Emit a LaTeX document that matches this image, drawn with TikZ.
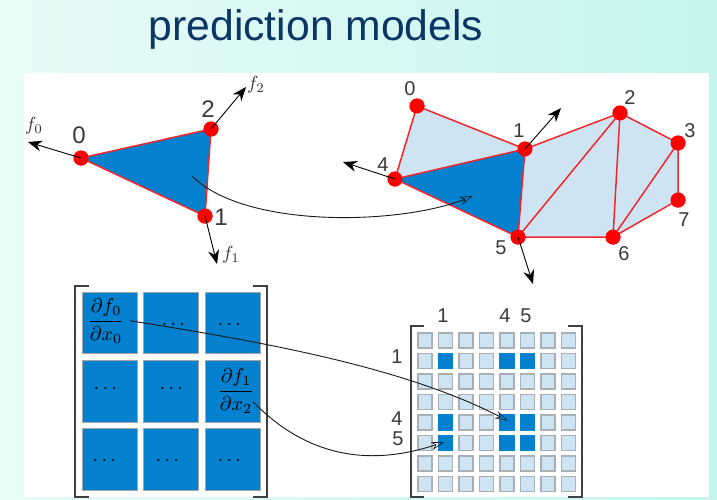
\documentclass[tikz,border=0pt]{standalone}
\usepackage{fontspec}
\usepackage{amsmath}
\usepackage{graphicx}
\setmainfont{Liberation Sans}
\usetikzlibrary{arrows.meta}
\definecolor{meshblue}{HTML}{0380CE}
\definecolor{lightblue}{HTML}{CFE4F3}
\definecolor{redline}{HTML}{F0282D}
\definecolor{cellgrey}{HTML}{A9B0B4}
\definecolor{digit}{HTML}{3A3A3A}
\definecolor{titleblue}{HTML}{0B3565}
\tikzset{
  vertex/.style={circle,fill=red,draw=none,minimum size=15pt,inner sep=0pt},
  lab/.style={text=digit,inner sep=0pt,font=\fontsize{24}{24}\selectfont},
  labr/.style={text=digit,inner sep=0pt,font=\fontsize{20}{20}\selectfont},
  fl/.style={inner sep=0pt,text=black!80},
  edge/.style={draw=redline,line width=1.5pt},
  push/.style={black,line width=.9pt,-{Stealth[length=14pt,width=11pt]}},
  link/.style={black!90,line width=.9pt,-{Stealth[open,length=13pt,width=8pt,line width=.6pt]}},
  brk/.style={draw=black!75,line width=1.1pt},
  bigcell/.style={fill=meshblue,draw=black!35,line width=.8pt,minimum width=55pt,minimum height=61.5pt,inner sep=0pt},
  lcell/.style={fill=lightblue,draw=cellgrey,line width=1.1pt,minimum width=14pt,minimum height=15pt,inner sep=0pt},
  dcell/.style={lcell,fill=meshblue,draw=meshblue},
  dotsnode/.style={inner sep=0pt,text=black}
}
\newcommand{\flabel}[1]{\scalebox{1.9}{$f_{#1}$}}
\newcommand{\pfrac}[2]{\scalebox{2.0}{$\dfrac{\partial f_{#1}}{\partial x_{#2}}$}}
\newcommand{\cdotsbig}{\scalebox{2.0}{$\cdots$}}
\begin{document}
\begin{tikzpicture}[x=1pt,y=-1pt]
\useasboundingbox (0,0) rectangle (717,499);
\shade[left color={rgb,255:red,232;green,251;blue,247},right color={rgb,255:red,197;green,245;blue,239}] (0,0) rectangle (717,499);
\fill[white] (24,73) rectangle (709,497);
\node[text=titleblue,inner sep=0pt,anchor=base,font=\fontsize{42.7}{43}\selectfont] (title) at (316,40) {prediction models};
% left triangle
\node[vertex] (a0) at (81,158) {};
\node[vertex] (a1) at (205,216) {};
\node[vertex] (a2) at (211,129) {};
\node[lab] (la0) at (79,135) {0};
\node[lab] (la1) at (221,217) {1};
\node[lab] (la2) at (208,109) {2};
\coordinate (fa0) at (28,142);
\coordinate (fa1) at (217,264);
\coordinate (fa2) at (246,87);
\node[fl] (nf0) at (34,126) {\flabel{0}};
\node[fl] (nf1) at (231,255) {\flabel{1}};
\node[fl] (nf2) at (256,85) {\flabel{2}};
% mesh
\node[vertex] (m0) at (417,106) {};
\node[vertex] (m1) at (525,149) {};
\node[vertex] (m2) at (620,113) {};
\node[vertex] (m3) at (678,143) {};
\node[vertex] (m4) at (395,179) {};
\node[vertex] (m5) at (518,237) {};
\node[vertex] (m6) at (613,237) {};
\node[vertex] (m7) at (678,200) {};
\node[labr] (lm0) at (410,89) {0};
\node[labr] (lm1) at (519,131) {1};
\node[labr] (lm2) at (630,98) {2};
\node[labr] (lm3) at (690,131) {3};
\node[labr] (lm4) at (383,165) {4};
\node[labr] (lm5) at (501,248) {5};
\node[labr] (lm6) at (624,254) {6};
\node[labr] (lm7) at (684,220) {7};
\coordinate (fm1) at (561,108);
\coordinate (fm4) at (343,162);
\coordinate (fm5) at (533,284);
\path[fill=meshblue] (a0.center) -- (a2.center) -- (a1.center) -- cycle;
\draw[edge] (a0.center) -- (a2.center) -- (a1.center) -- cycle;
\path[fill=lightblue] (m0.center) -- (m1.center) -- (m2.center) -- (m3.center) -- (m7.center) -- (m6.center) -- (m5.center) -- (m4.center) -- cycle;
\path[fill=meshblue] (m4.center) -- (m1.center) -- (m5.center) -- cycle;
\draw[edge] (m0.center) -- (m1.center) -- (m2.center) -- (m3.center) -- (m7.center) -- (m6.center) -- (m5.center) -- (m4.center) -- cycle;
\draw[edge] (m4.center) -- (m1.center) -- (m5.center) -- (m2.center) -- (m6.center) -- (m3.center);
% vertices over edges
\foreach \n in {a0,a1,a2,m0,m1,m2,m3,m4,m5,m6,m7}
  \fill[red] (\n.center) circle (7.5pt);
\draw[push] (a0.center) -- (fa0);
\draw[push] (a1.center) -- (fa1);
\draw[push] (a2.center) -- (fa2);
\draw[push] (m1.center) -- (fm1);
\draw[push] (m4.center) -- (fm4);
\draw[push] (m5.center) -- (fm5);
% left matrix
\foreach \c/\x in {0/109.7,1/171.2,2/233}
  \foreach \r/\y in {0/322.7,1/391.3,2/459.3}
    \node[bigcell] (b\c\r) at (\x,\y) {};
\node[inner sep=0pt] (t00) at (106,321) {\pfrac{0}{0}};
\node[inner sep=0pt] (t21) at (236,391) {\pfrac{1}{2}};
\foreach \n/\x/\y in {d10/175/325,d20/231/325,d01/107/389,d11/173/389,d02/106/461,d12/169/461,d22/231/461}
  \node[dotsnode] (\n) at (\x,\y) {\cdotsbig};
\draw[brk] (89,286) -- (75,286) -- (75,497) -- (89,497);
\draw[brk] (253,286) -- (267,286) -- (267,497) -- (253,497);
% right matrix
\foreach \c in {0,...,7}
  \foreach \r in {0,...,7}
    \node[lcell] (s\c\r) at ({425+20.5*\c},{340.5+20.5*\r}) {};
\foreach \c in {1,4,5}
  \foreach \r in {1,4,5}
    \node[dcell] (k\c\r) at ({425+20.5*\c},{340.5+20.5*\r}) {};
\draw[brk] (424,326) -- (411,326) -- (411,497) -- (424,497);
\draw[brk] (568,326) -- (582,326) -- (582,497) -- (568,497);
\node[labr] (c1) at (443,316) {1};
\node[labr] (c4) at (505,316) {4};
\node[labr] (c5) at (526,316) {5};
\node[labr] (r1) at (397,357) {1};
\node[labr] (r4) at (397,419) {4};
\node[labr] (r5) at (398,439) {5};
% links
\coordinate (g0) at (192,176);
\coordinate (g1) at (472.7,196);
\coordinate (g2) at (130,320.7);
\coordinate (g3) at (507.7,420.7);
\coordinate (g4) at (253,401.7);
\coordinate (g5) at (444,442);
\draw[link] (g0) .. controls (245,229) and (400,225) .. (g1);
\draw[link] (g2) .. controls (250,340) and (400,365) .. (g3);
\draw[link] (g4) .. controls (300,450) and (360,470) .. (g5);
\end{tikzpicture}
\end{document}
